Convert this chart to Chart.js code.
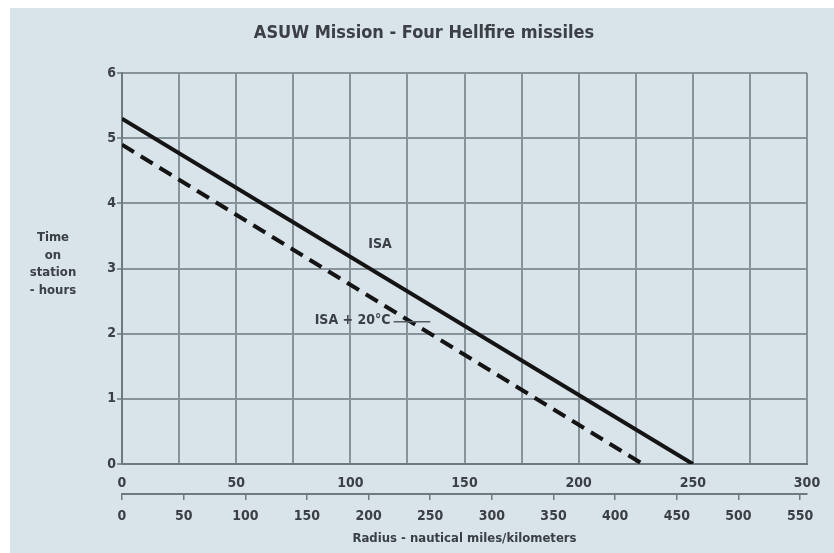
<!DOCTYPE html>
<html>
<head>
<meta charset="utf-8">
<script src="https://cdn.jsdelivr.net/npm/chart.js@4"></script>
<style>
  html, body { margin: 0; padding: 0; background: #ffffff; }
  #wrap { width: 834px; height: 553px; position: relative; }
</style>
</head>
<body>
<div id="wrap"><canvas id="c" width="834" height="553"></canvas></div>
<script>
// ---- data ----
const chartTitle = 'ASUW Mission - Four Hellfire missiles';
const yTitleLines = ['Time', 'on', 'station', '- hours'];
const xTitle = 'Radius - nautical miles/kilometers';
const isaLabel = 'ISA';
const hotLabel = 'ISA + 20°C';

const isaRadiusNm = [0, 250];
const isaHours = [5.3, 0];
const hotRadiusNm = [0, 228];
const hotHours = [4.9, 0];

const nmGridValues = [0, 25, 50, 75, 100, 125, 150, 175, 200, 225, 250, 275, 300];
const nmTickLabels = [0, 50, 100, 150, 200, 250, 300];
const kmTickLabels = [0, 50, 100, 150, 200, 250, 300, 350, 400, 450, 500, 550];
const hourTickLabels = [0, 1, 2, 3, 4, 5, 6];

const NM_MAX = 300;
const KM_PER_NM = 1.852;

// label anchors in data units
const isaLabelPos = { x: 113, y: 3.37 };
const hotLabelPos = { x: 101, y: 2.2 };
const hotLeader = { x1: 119, x2: 135, y: 2.2 };

const FONT = '"Liberation Sans Narrow", "DejaVu Sans Condensed", "Roboto Condensed", sans-serif';
const TXT = '#3c4046';
const GRID = '#87939a';

const toPts = (xs, ys) => xs.map((x, i) => ({ x: x, y: ys[i] }));

const decor = {
  id: 'decor',
  beforeDraw(chart) {
    const ctx = chart.ctx;
    ctx.save();
    ctx.fillStyle = '#ffffff';
    ctx.fillRect(0, 0, chart.width, chart.height);
    ctx.fillStyle = '#d8e4e9';
    ctx.fillRect(10, 8, chart.width - 10, chart.height - 8);
    ctx.restore();
  },
  afterDraw(chart) {
    const ctx = chart.ctx;
    const xs = chart.scales.x, ys = chart.scales.y;
    ctx.save();
    ctx.fillStyle = TXT;
    ctx.textAlign = 'center';
    ctx.textBaseline = 'middle';
    ctx.font = 'bold 18px ' + FONT;
    ctx.fillText(chartTitle, 424, 33);
    ctx.font = 'bold 13px ' + FONT;
    const ly = [238, 256, 273, 291];
    yTitleLines.forEach((t, i) => ctx.fillText(t, 53, ly[i]));
    ctx.font = 'bold 14px ' + FONT;
    ctx.fillText(isaLabel, xs.getPixelForValue(isaLabelPos.x), ys.getPixelForValue(isaLabelPos.y));
    ctx.fillText(hotLabel, xs.getPixelForValue(hotLabelPos.x), ys.getPixelForValue(hotLabelPos.y));
    ctx.strokeStyle = '#555b60';
    ctx.lineWidth = 1.5;
    ctx.beginPath();
    const yy = ys.getPixelForValue(hotLeader.y) + 1;
    ctx.moveTo(xs.getPixelForValue(hotLeader.x1), yy);
    ctx.lineTo(xs.getPixelForValue(hotLeader.x2), yy);
    ctx.stroke();
    ctx.restore();
  }
};

new Chart(document.getElementById('c'), {
  type: 'scatter',
  data: {
    datasets: [
      {
        label: isaLabel,
        data: toPts(isaRadiusNm, isaHours),
        showLine: true,
        borderColor: '#141414',
        borderWidth: 4,
        pointRadius: 0,
        fill: false
      },
      {
        label: hotLabel,
        data: toPts(hotRadiusNm, hotHours),
        showLine: true,
        borderColor: '#141414',
        borderWidth: 4,
        borderDash: [14, 8],
        pointRadius: 0,
        fill: false
      }
    ]
  },
  options: {
    responsive: false,
    animation: false,
    devicePixelRatio: 1,
    layout: { padding: { top: 73, right: 27, bottom: 0, left: 0 } },
    plugins: {
      legend: { display: false },
      title: { display: false },
      tooltip: { enabled: false }
    },
    scales: {
      x: {
        type: 'linear',
        position: 'bottom',
        weight: 0,
        min: 0,
        max: NM_MAX,
        afterBuildTicks: (s) => { s.ticks = nmGridValues.map(v => ({ value: v })); },
        ticks: {
          padding: 11,
          color: TXT,
          font: { family: FONT, size: 14, weight: 'bold' },
          maxRotation: 0,
          autoSkip: false,
          callback: (v) => nmTickLabels.includes(v) ? String(v) : ''
        },
        grid: { color: GRID, lineWidth: 2, drawTicks: false },
        border: { display: true, color: '#6f7a80', width: 2 },
        afterFit: (s) => { s.height = 30; }
      },
      x2: {
        type: 'linear',
        position: 'bottom',
        weight: 1,
        min: 0,
        max: NM_MAX * KM_PER_NM,
        afterBuildTicks: (s) => { s.ticks = kmTickLabels.map(v => ({ value: v })); },
        ticks: {
          padding: 8,
          color: TXT,
          font: { family: FONT, size: 14, weight: 'bold' },
          maxRotation: 0,
          autoSkip: false,
          callback: (v) => String(v)
        },
        grid: { drawOnChartArea: false, drawTicks: true, tickLength: 6, color: '#6f7a80', lineWidth: 1.5 },
        border: { display: true, color: '#6f7a80', width: 2 },
        title: {
          display: true,
          text: xTitle,
          color: TXT,
          font: { family: FONT, size: 13, weight: 'bold' },
          padding: { top: 0, bottom: 7 }
        },
        afterFit: (s) => { s.height = 59; }
      },
      y: {
        type: 'linear',
        min: 0,
        max: 6,
        afterBuildTicks: (s) => { s.ticks = hourTickLabels.map(v => ({ value: v })); },
        ticks: {
          padding: 1,
          color: TXT,
          font: { family: FONT, size: 14, weight: 'bold' },
          callback: (v) => String(v)
        },
        grid: { color: GRID, lineWidth: 2, drawTicks: true, tickLength: 5 },
        border: { display: true, color: '#6f7a80', width: 2 },
        afterFit: (s) => { s.width = 122; }
      }
    }
  },
  plugins: [decor]
});
</script>
</body>
</html>
